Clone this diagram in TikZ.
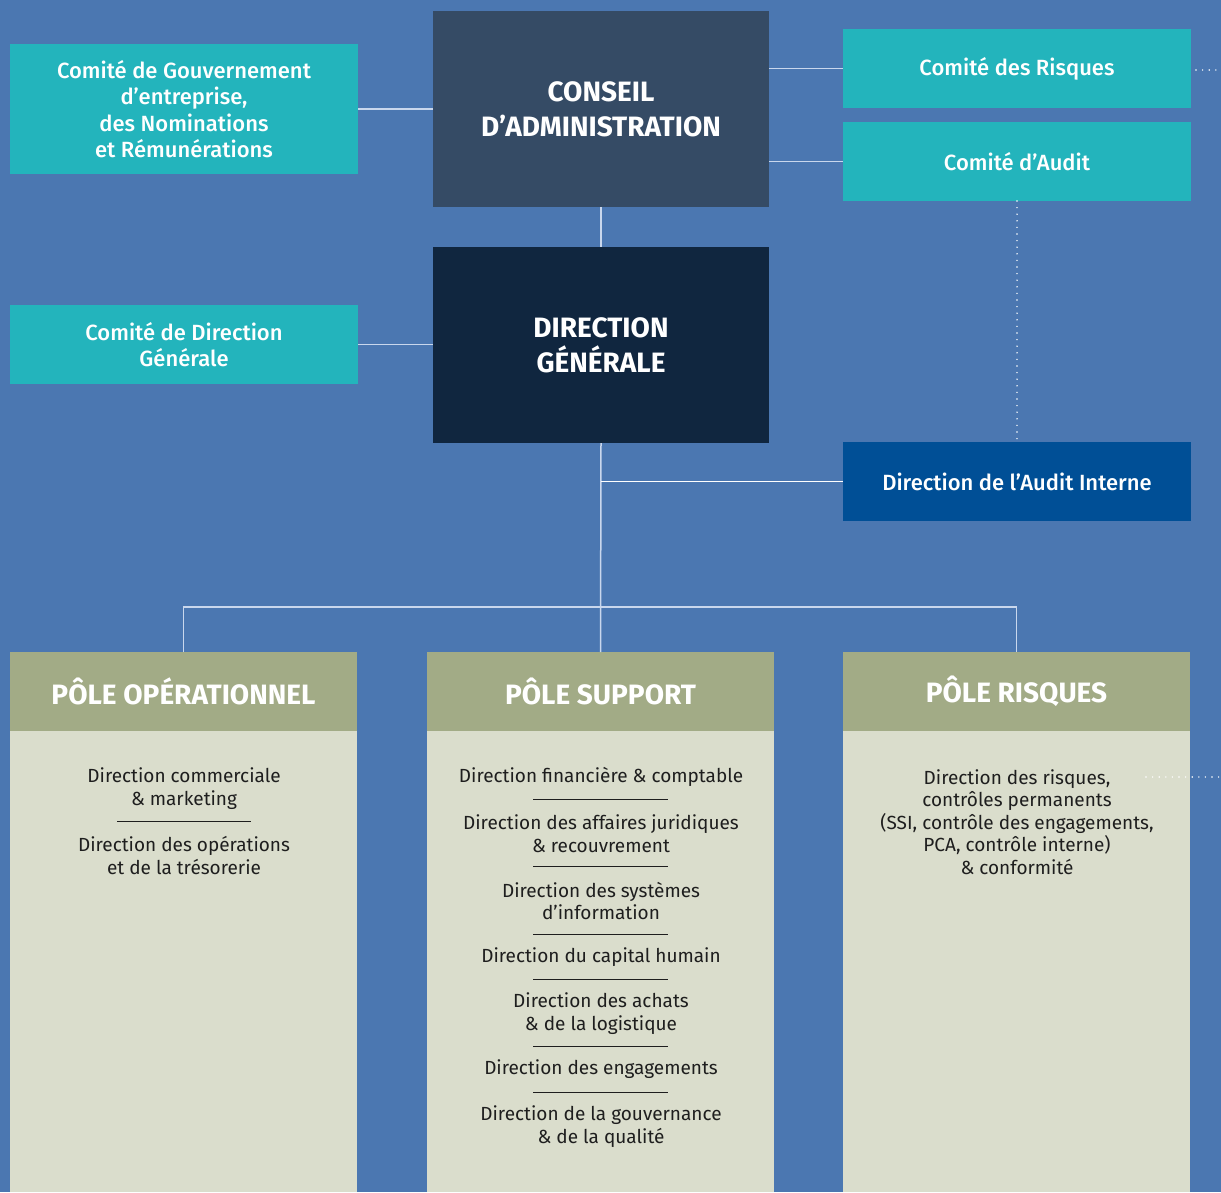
\documentclass[tikz,border=0pt]{standalone}
\usepackage{fontspec}
\setmainfont{Fira Sans}
\newfontfamily\headfont{Fira Sans}
\newfontfamily\medfont{Fira Sans Medium}
\definecolor{bgblue}{HTML}{4B77B1}
\definecolor{teal}{HTML}{23B4BC}
\definecolor{slate}{HTML}{354B65}
\definecolor{navy}{HTML}{10263F}
\definecolor{auditblue}{HTML}{004F96}
\definecolor{polegreen}{HTML}{A2AB86}
\definecolor{polebody}{HTML}{DADDCC}
\definecolor{linec}{HTML}{C9D7ED}
\definecolor{txt}{HTML}{1E1E1E}
\tikzset{
  box/.style={rectangle, inner sep=0pt, outer sep=0pt, align=center, text=white},
  tealbox/.style={box, fill=teal, minimum width=348pt, font=\medfont\fontsize{22}{26.5}\selectfont},
  bigbox/.style={box, minimum width=336pt, minimum height=196pt, font=\headfont\bfseries\fontsize{28}{35}\selectfont},
  polehead/.style={box, fill=polegreen, minimum width=347pt, minimum height=79pt, font=\headfont\bfseries\fontsize{28}{30}\selectfont},
  polebody/.style={box, fill=polebody, minimum width=347pt, minimum height=461pt},
  item/.style={align=center, text=txt, inner sep=0pt, font=\fontsize{19}{22.5}\selectfont},
  conn/.style={draw=linec, line width=1.5pt},
  dotl/.style={draw=white, line width=1.6pt, line cap=round, dash pattern=on 0pt off 6.6pt},
  sepl/.style={draw=txt, line width=0.9pt},
}
\begin{document}
\begin{tikzpicture}[x=1pt,y=-1pt]
\useasboundingbox (0,0) rectangle (1221,1192);
\fill[bgblue] (0,0) rectangle (1221,1192);

% top level
\node[bigbox, fill=slate] (ca) at (601,109) {CONSEIL\\D’ADMINISTRATION};
\node[tealbox, minimum height=130pt] (cg) at (184,109) {Comité de Gouvernement\\d’entreprise,\\des Nominations\\et Rémunérations};
\node[tealbox, minimum height=79pt] (cr) at (1017,68.5) {Comité des Risques};
\node[tealbox, minimum height=79pt] (cau) at (1017,161.5) {Comité d’Audit};

% direction generale
\node[bigbox, fill=navy] (dg) at (601,345) {DIRECTION\\GÉNÉRALE};
\node[tealbox, minimum height=79pt] (cdg) at (184,344.5) {Comité de Direction\\Générale};
\node[tealbox, fill=auditblue, minimum height=79pt] (dai) at (1017,481.5) {Direction de l’Audit Interne};

% poles
\node[polehead] (po) at (183.5,691.5) {PÔLE OPÉRATIONNEL};
\node[polehead] (ps) at (600.5,691.5) {PÔLE SUPPORT};
\node[polehead] (pr) at (1016.5,691.5) {PÔLE RISQUES};
\node[polebody, anchor=north] (pob) at (po.south) {};
\node[polebody, anchor=north] (psb) at (ps.south) {};
\node[polebody, anchor=north] (prb) at (pr.south) {};

% connectors
\draw[conn] (cg.east) -- (cg.east -| ca.west);
\draw[conn] (ca.east |- cr.west) -- (cr.west);
\draw[conn] (ca.east |- cau.west) -- (cau.west);
\draw[conn] (ca.south) -- (dg.north);
\draw[conn] (cdg.east) -- (cdg.east -| dg.west);
\draw[conn] (dg.south) -- (ps.north);
\draw[conn, draw=white] (dg.south |- dai.west) -- (dai.west);
\coordinate (bus) at (601,607);
\draw[conn] (po.north) |- (bus) -| (pr.north);
\draw[dotl] (cau.south) -- (dai.north);
\coordinate (e1) at (1221,70);
\coordinate (e2a) at (1146,777);
\coordinate (e2) at (1221,777);
\draw[dotl] ([xshift=5pt]cr.east |- e1) -- (e1);
\draw[dotl] (e2a) -- (e2);

% pole operationnel items
\node[item] (o1) at (184,788.5) {Direction commerciale\\\& marketing};
\draw[sepl] (117,821) -- (251,821);
\node[item] (o2) at (184,855.5) {Direction des opérations\\et de la trésorerie};

% pole support items
\node[item] (s1) at (601,777) {Direction financière \& comptable};
\draw[sepl] (533,799) -- (668,799);
\node[item] (s2) at (601,833.5) {Direction des affaires juridiques\\\& recouvrement};
\draw[sepl] (533,866) -- (668,866);
\node[item] (s3) at (601,901) {Direction des systèmes\\d’information};
\draw[sepl] (533,934) -- (668,934);
\node[item] (s4) at (601,957) {Direction du capital humain};
\draw[sepl] (533,979) -- (668,979);
\node[item] (s5) at (601,1013.5) {Direction des achats\\\& de la logistique};
\draw[sepl] (533,1046) -- (668,1046);
\node[item] (s6) at (601,1069) {Direction des engagements};
\draw[sepl] (533,1092) -- (668,1092);
\node[item] (s7) at (601,1126.5) {Direction de la gouvernance\\\& de la qualité};

% pole risques items
\node[item] (r1) at (1017,822) {Direction des risques,\\contrôles permanents\\(SSI, contrôle des engagements,\\PCA, contrôle interne)\\\& conformité};
\end{tikzpicture}
\end{document}
